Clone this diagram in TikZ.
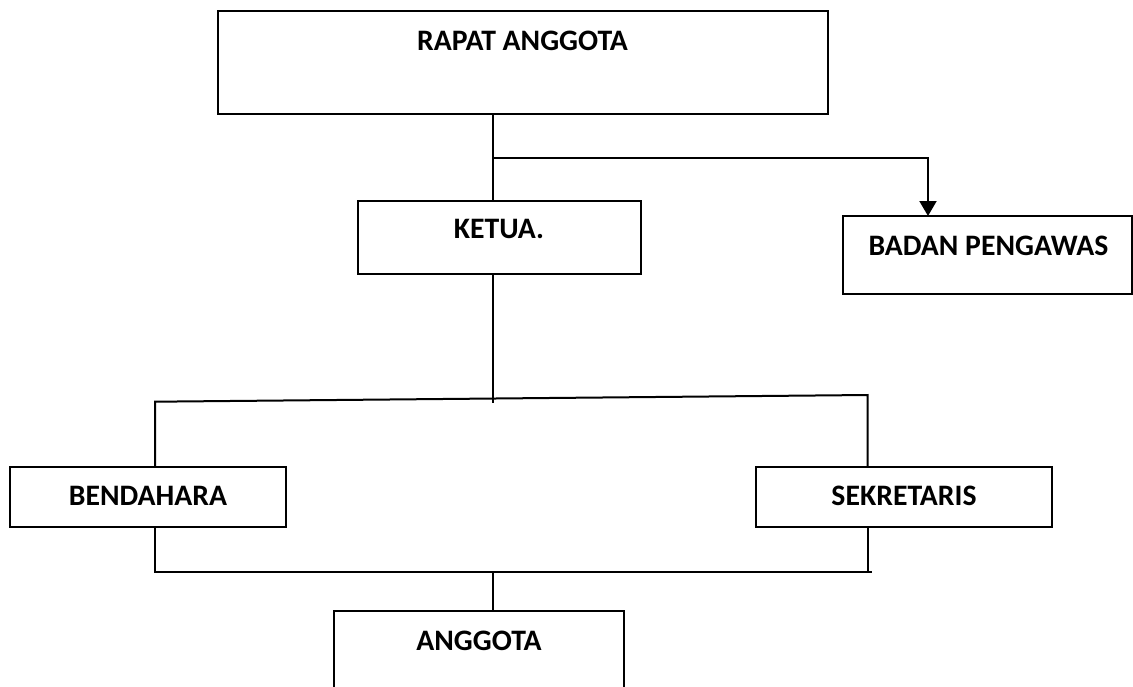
\documentclass[tikz,border=0pt]{standalone}
\usepackage{fontspec}
\setmainfont{Carlito}
\usetikzlibrary{arrows.meta}
\begin{document}
\begin{tikzpicture}[x=1pt,y=-1pt,
  box/.style={draw=black, line width=2pt, rectangle, inner sep=0pt, outer sep=0pt},
  lbl/.style={font=\fontsize{29.7}{35}\selectfont\bfseries, inner sep=0pt, anchor=base},
  conn/.style={draw=black, line width=2pt},
  arr/.style={conn, -{Triangle[width=17pt,length=15pt]}}]
\useasboundingbox (0,0) rectangle (1133,686);
\fill[white] (0,0) rectangle (1133,686);
\begin{scope}
\clip (0,0) rectangle (1133,686);
% boxes
\node[box, minimum width=610pt, minimum height=103pt] (rapat) at (523,62.5) {};
\node[box, minimum width=283pt, minimum height=73pt] (ketua) at (499.5,237.5) {};
\node[box, minimum width=289pt, minimum height=78pt] (badan) at (987.5,255) {};
\node[box, minimum width=276pt, minimum height=60pt] (bendahara) at (148,497) {};
\node[box, minimum width=296pt, minimum height=60pt] (sekretaris) at (904,497) {};
\node[box, minimum width=290pt, minimum height=89pt] (anggota) at (479,655.5) {};
% labels
\node[lbl] (rapat-t) at (522.5,50) {RAPAT ANGGOTA};
\node[lbl] (ketua-t) at (499,238.3) {KETUA.};
\node[lbl] (badan-t) at (988.5,255) {BADAN PENGAWAS};
\node[lbl] (bendahara-t) at (148,505.7) {BENDAHARA};
\node[lbl] (sekretaris-t) at (904,505.7) {SEKRETARIS};
\node[lbl] (anggota-t) at (479,650) {ANGGOTA};
% helper coordinates
\coordinate (spine) at (492.7,0);
\coordinate (branch) at (492.7,158.3);
\coordinate (arrx) at (928,0);
\coordinate (mid) at (492.7,402.5);
\coordinate (tl) at (155,401.7);
\coordinate (tr) at (867.7,395);
\coordinate (bl) at (155,571.7);
\coordinate (bm) at (492.7,571.7);
\coordinate (br) at (871.7,571.7);
\coordinate (brv) at (867.7,571.7);
% connectors
\draw[conn] (rapat.south -| spine) -- (ketua.north -| spine);
\draw[arr] (branch) -| (badan.north -| arrx);
\draw[conn] (ketua.south -| spine) -- (mid);
\draw[conn] (bendahara.north -| tl) -- (tl) -- (tr) -- (sekretaris.north -| tr);
\draw[conn] (bendahara.south -| bl) -- (bl) -- (br);
\draw[conn] (sekretaris.south -| brv) -- (brv);
\draw[conn] (bm) -- (anggota.north -| bm);
\end{scope}
\end{tikzpicture}
\end{document}
